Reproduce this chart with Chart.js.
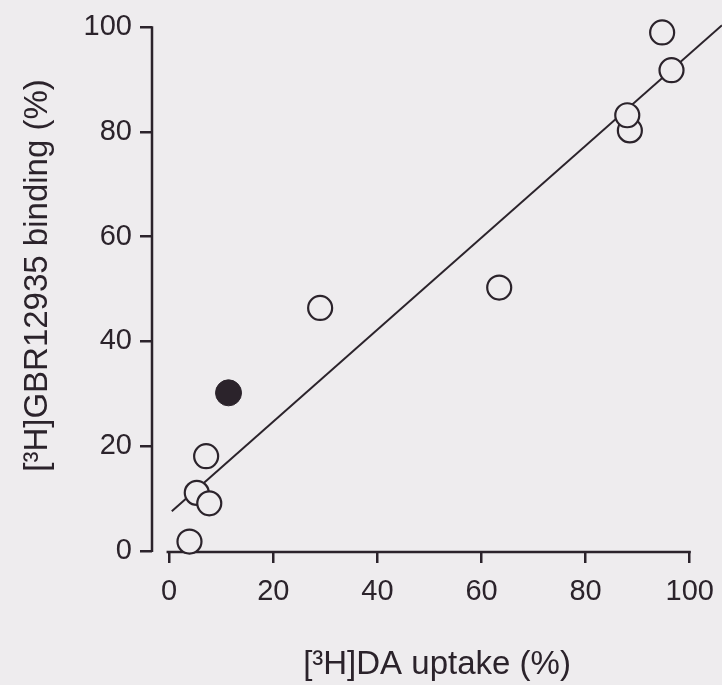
<!DOCTYPE html>
<html>
<head>
<meta charset="utf-8">
<script src="https://cdn.jsdelivr.net/npm/chart.js@4/dist/chart.umd.min.js"></script>
<style>
  html, body { margin: 0; padding: 0; background: #eeecee; }
  #wrap { width: 722px; height: 685px; position: relative; }
</style>
</head>
<body>
<div id="wrap"><canvas id="uptake-chart"></canvas></div>
<script>
// Open circles: individual compounds
const openUptake = [94.7, 96.5, 88.5, 88.0, 63.4, 29.0, 7.1, 5.3, 7.7, 3.9];
const openBinding = [99.0, 91.8, 80.3, 83.2, 50.3, 46.4, 18.1, 11.1, 9.1, 1.8];

// Filled circle
const filledUptake = [11.4];
const filledBinding = [30.2];

// Regression line end points
const fitUptake = [0.5, 106.2];
const fitBinding = [7.6, 100.4];

const xTickValues = [0, 20, 40, 60, 80, 100];
const yTickValues = [0, 20, 40, 60, 80, 100];

const ink = '#2b232b';
const paper = '#eeecee';
const fontFamily = '"Liberation Sans", Arial, Helvetica, sans-serif';

const toPoints = (xs, ys) => xs.map((x, i) => ({ x: x, y: ys[i] }));

// paints the page colour and the two detached axis lines
const axisPlugin = {
    id: 'axisLines',
    beforeDraw(chart) {
        const ctx = chart.ctx;
        ctx.save();
        ctx.fillStyle = paper;
        ctx.fillRect(0, 0, chart.width, chart.height);
        ctx.restore();
    },
    beforeDatasetsDraw(chart) {
        const ctx = chart.ctx;
        const x = chart.scales.x;
        const y = chart.scales.y;
        ctx.save();
        ctx.strokeStyle = ink;
        ctx.lineWidth = 2.5;
        ctx.lineCap = 'butt';
        // y axis
        const left = chart.chartArea.left;
        ctx.beginPath();
        ctx.moveTo(left, y.getPixelForValue(0) + 1);
        ctx.lineTo(left, y.getPixelForValue(100) - 1);
        ctx.stroke();
        // x axis, starting just right of the y axis
        const base = y.getPixelForValue(0) + 1;
        ctx.beginPath();
        ctx.moveTo(x.getPixelForValue(-0.5), base);
        ctx.lineTo(x.getPixelForValue(100) + 1, base);
        ctx.stroke();
        ctx.restore();
    }
};

new Chart(document.getElementById('uptake-chart'), {
    type: 'scatter',
    data: {
        datasets: [
            {
                type: 'line',
                data: toPoints(fitUptake, fitBinding),
                borderColor: ink,
                borderWidth: 2,
                pointRadius: 0,
                fill: false,
                clip: false,
                order: 3
            },
            {
                data: toPoints(openUptake, openBinding),
                pointRadius: 12,
                pointBorderWidth: 2.2,
                pointBorderColor: ink,
                pointBackgroundColor: paper,
                clip: false,
                order: 2
            },
            {
                data: toPoints(filledUptake, filledBinding),
                pointRadius: 13,
                pointBorderWidth: 1,
                pointBorderColor: ink,
                pointBackgroundColor: ink,
                clip: false,
                order: 1
            }
        ]
    },
    options: {
        responsive: true,
        maintainAspectRatio: false,
        animation: false,
        layout: { padding: 0, autoPadding: false },
        plugins: {
            legend: { display: false },
            tooltip: { enabled: false }
        },
        scales: {
            x: {
                type: 'linear',
                min: -3.3,
                max: 106.2,
                afterBuildTicks: (scale) => { scale.ticks = xTickValues.map(v => ({ value: v })); },
                afterFit: (scale) => {
                    scale.height = 134;
                    scale.paddingLeft = 0;
                    scale.paddingRight = 0;
                },
                border: { display: false },
                grid: {
                    drawOnChartArea: false,
                    drawTicks: true,
                    tickLength: 12,
                    lineWidth: 2.5,
                    color: ink
                },
                ticks: {
                    color: ink,
                    padding: 12,
                    maxRotation: 0,
                    font: { family: fontFamily, size: 29 }
                },
                title: {
                    display: true,
                    text: '[³H]DA uptake (%)',
                    color: ink,
                    font: { family: fontFamily, size: 33 },
                    padding: { top: 0, bottom: 0 }
                }
            },
            y: {
                type: 'linear',
                min: 0,
                max: 105.2,
                afterBuildTicks: (scale) => { scale.ticks = yTickValues.map(v => ({ value: v })); },
                afterFit: (scale) => {
                    scale.width = 152;
                    scale.paddingTop = 0;
                    scale.paddingBottom = 0;
                },
                border: { display: false },
                grid: {
                    drawOnChartArea: false,
                    drawTicks: true,
                    tickLength: 12,
                    lineWidth: 2.5,
                    color: ink
                },
                ticks: {
                    color: ink,
                    padding: 8,
                    font: { family: fontFamily, size: 29 }
                },
                title: {
                    display: true,
                    text: '[³H]GBR12935 binding (%)',
                    color: ink,
                    font: { family: fontFamily, size: 33 },
                    padding: { top: 18, bottom: 0 }
                }
            }
        }
    },
    plugins: [axisPlugin]
});
</script>
</body>
</html>
